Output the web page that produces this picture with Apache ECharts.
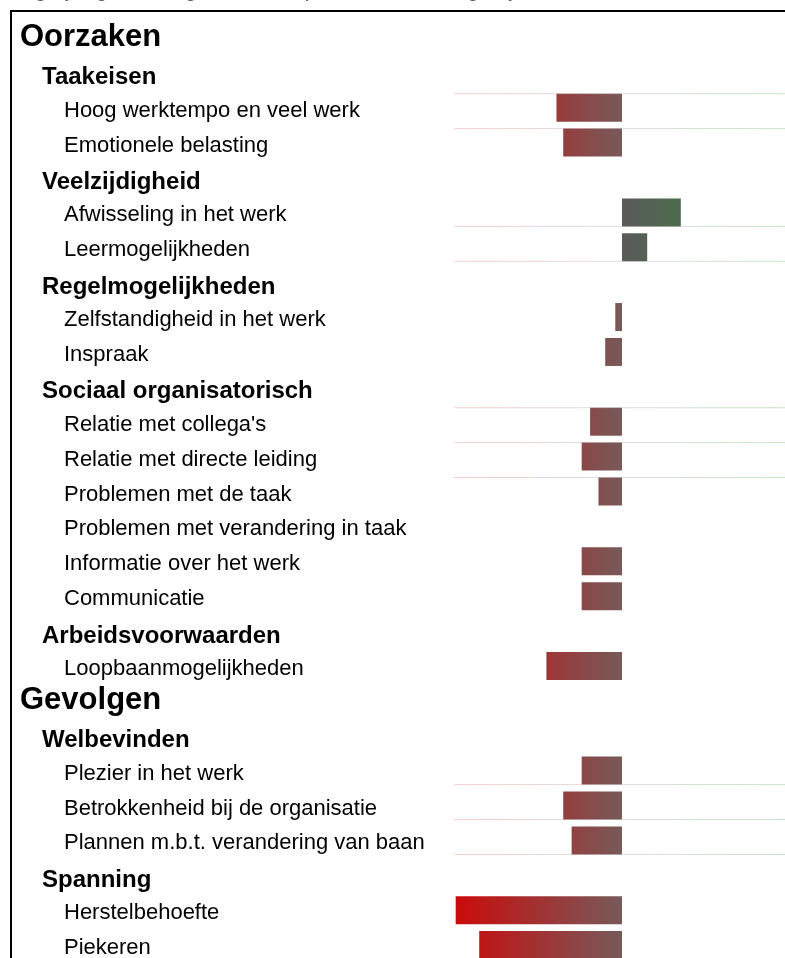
<!DOCTYPE html>
<html>
<head>
<meta charset="utf-8">
<script src="https://cdn.jsdelivr.net/npm/echarts@6/dist/echarts.min.js"></script>
<style>
html,body{margin:0;padding:0;background:#fff;}
#chart{width:785px;height:958px;}
</style>
</head>
<body>
<div id="chart"></div>
<script>
// ---- data ----
const categories = [
  'Oorzaken',
  'Taakeisen',
  'Hoog werktempo en veel werk',
  'Emotionele belasting',
  'Veelzijdigheid',
  'Afwisseling in het werk',
  'Leermogelijkheden',
  'Regelmogelijkheden',
  'Zelfstandigheid in het werk',
  'Inspraak',
  'Sociaal organisatorisch',
  "Relatie met collega's",
  'Relatie met directe leiding',
  'Problemen met de taak',
  'Problemen met verandering in taak',
  'Informatie over het werk',
  'Communicatie',
  'Arbeidsvoorwaarden',
  'Loopbaanmogelijkheden',
  'Gevolgen',
  'Welbevinden',
  'Plezier in het werk',
  'Betrokkenheid bij de organisatie',
  'Plannen m.b.t. verandering van baan',
  'Spanning',
  'Herstelbehoefte',
  'Piekeren'
];
// 0 = main heading, 1 = sub heading, 2 = item
const levels = [0,1,2,2,1,2,2,1,2,2,1,2,2,2,2,2,2,1,2,0,1,2,2,2,1,2,2];
// score relative to the benchmark (null = heading row)
const scores = [null,null,-0.39,-0.35,null,0.35,0.15,null,-0.04,-0.10,null,-0.19,-0.24,-0.14,0,-0.24,-0.24,null,-0.45,null,null,-0.24,-0.35,-0.30,null,-0.99,-0.85];
// faint separator lines: row and edge of its bar (-1 top, 1 bottom)
const separatorRows = ['Hoog werktempo en veel werk','Emotionele belasting','Afwisseling in het werk','Leermogelijkheden',"Relatie met collega's",'Relatie met directe leiding','Problemen met de taak','Plezier in het werk','Betrokkenheid bij de organisatie','Plannen m.b.t. verandering van baan'];
const separatorEdges = [-1,-1,1,1,-1,-1,-1,1,1,1];

// ---- styling helpers ----
const FONT = "'Liberation Sans', Arial, Helvetica, sans-serif";
const RED = [204,10,10], NEGZERO = [119,90,90], POSZERO = [90,90,90], GREEN = [53,139,53];
function mix(a,b,t){return 'rgb('+a.map((v,i)=>Math.round(v+(b[i]-v)*t)).join(',')+')';}
function barColor(v){
  if (v < 0) {
    return new echarts.graphic.LinearGradient(0,0,1,0,[
      {offset:0,color:mix(NEGZERO,RED,-v)},{offset:1,color:mix(NEGZERO,NEGZERO,0)}]);
  }
  return new echarts.graphic.LinearGradient(0,0,1,0,[
    {offset:0,color:mix(POSZERO,POSZERO,0)},{offset:1,color:mix(POSZERO,GREEN,v)}]);
}
const BAR_W = 28;
const X_MIN = -1, X_MAX = 1;
const styleNames = ['h0','h1','h2'];

const chart = echarts.init(document.getElementById('chart'), null, {renderer:'canvas'});
chart.setOption({
  animation:false,
  backgroundColor:'#fff',
  graphic:[
    {type:'text', left:6, top:-19, silent:true,
     style:{text:'Vergelijking met het gemiddelde op basis van de vragenlijst', font:'italic 20px '+FONT, fill:'#555'}},
    {type:'rect', shape:{x:11, y:11, width:900, height:1100}, silent:true, z:100,
     style:{fill:'none', stroke:'#000', lineWidth:2}}
  ],
  grid:{left:454, top:20.5, width:336, height:942, containLabel:false, outerBoundsMode:'none'},
  xAxis:{type:'value', min:X_MIN, max:X_MAX, show:false},
  yAxis:{
    type:'category', data:categories, inverse:true,
    axisLine:{show:false}, axisTick:{show:false}, splitLine:{show:false},
    axisLabel:{
      interval:0, align:'left', margin:434, color:'#000', fontFamily:FONT,
      formatter:function(v, i){return '{'+styleNames[levels[i]]+'|'+v+'}';},
      rich:{
        h0:{fontSize:31, fontWeight:'bold', fontFamily:FONT, color:'#000', padding:[0,0,0,0]},
        h1:{fontSize:24, fontWeight:'bold', fontFamily:FONT, color:'#000', padding:[10,0,0,22]},
        h2:{fontSize:22, fontFamily:FONT, color:'#000', padding:[6,0,0,44]}
      }
    }
  },
  series:[
    {
      type:'bar', barWidth:BAR_W, z:2,
      data:scores.map(v => v === null ? null : {value:v, itemStyle:{color:barColor(v)}})
    },
    {
      type:'custom', z:3, silent:true,
      data:separatorRows.map((r,i) => [categories.indexOf(r), separatorEdges[i]]),
      encode:{y:0},
      renderItem:function(params, api){
        const idx = api.value(0), edge = api.value(1);
        const p1 = api.coord([X_MIN, idx]);
        const p2 = api.coord([X_MAX, idx]);
        const y = p1[1] + edge*BAR_W/2;
        return {
          type:'line',
          shape:{x1:p1[0], y1:y, x2:p2[0], y2:y},
          style:{lineWidth:1, stroke:new echarts.graphic.LinearGradient(0,0,1,0,[
            {offset:0,color:'rgba(230,90,90,0.3)'},
            {offset:0.5,color:'rgba(140,140,140,0.3)'},
            {offset:1,color:'rgba(70,170,70,0.3)'}])}
        };
      }
    }
  ]
});
</script>
</body>
</html>
